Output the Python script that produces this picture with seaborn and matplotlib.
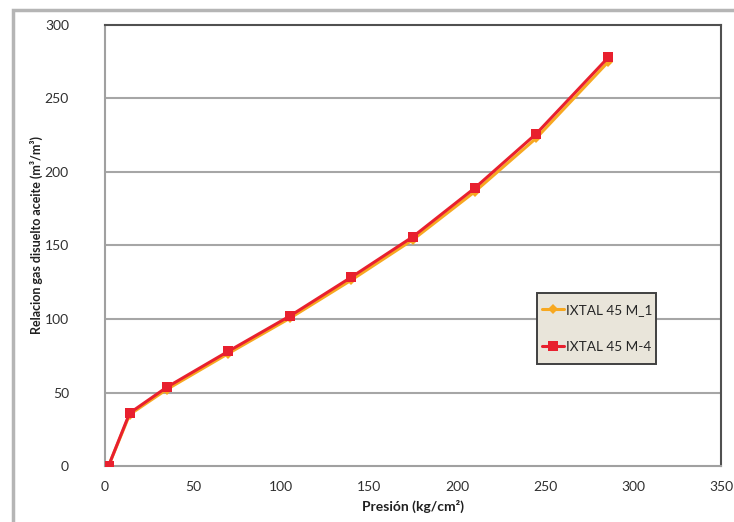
import matplotlib
matplotlib.use("Agg")
import matplotlib.pyplot as plt
import seaborn as sns
import pandas as pd
from matplotlib.patches import Rectangle

# Data
presion = [2, 14, 35, 70, 105, 140, 175, 210, 245, 286]
m1 = [0, 35, 52, 76.5, 100.5, 126.5, 154, 186.5, 223, 275]
m4 = [0, 36, 53.5, 78, 102, 128.5, 156, 189, 226, 278]
series_names = ["IXTAL 45 M_1", "IXTAL 45 M-4"]
x_ticks = [0, 50, 100, 150, 200, 250, 300, 350]
y_ticks = [0, 50, 100, 150, 200, 250, 300]

sns.set_theme(style="white")
plt.rcParams["font.family"] = ["Lato", "DejaVu Sans"]

W, H = 734, 522
fig = plt.figure(figsize=(W / 100, H / 100), dpi=100)
fig.patch.set_facecolor("white")
L, R, T, B = 105, 721, 25, 466
ax = fig.add_axes([L / W, 1 - B / H, (R - L) / W, (B - T) / H])

def fx(px):
    return px / W

def fy(py):
    return 1 - py / H

# outer frame
fig.patches.append(Rectangle((fx(13), -0.05), 1.0, fy(10) + 0.05,
                             transform=fig.transFigure, fill=False,
                             edgecolor="#b5b5b5", linewidth=2.5, zorder=0))

for yv in y_ticks[1:-1]:
    ax.axhline(yv, color="#a6a6a6", linewidth=1.5, zorder=1)

df1 = pd.DataFrame({"x": presion, "y": m1})
df4 = pd.DataFrame({"x": presion, "y": m4})
sns.lineplot(data=df1, x="x", y="y", ax=ax, color="#f7a820", linewidth=2.2,
             marker="D", markersize=5, markeredgewidth=0, label=series_names[0],
             zorder=3, sort=False)
sns.lineplot(data=df4, x="x", y="y", ax=ax, color="#e8202e", linewidth=2.2,
             marker="s", markersize=6.5, markeredgewidth=0, label=series_names[1],
             zorder=4, sort=False)

# legend box (drawn in the axes so it sits above the lines)
box = Rectangle((fx(537), fy(364)), fx(656) - fx(537), fy(293) - fy(364),
                transform=fig.transFigure, facecolor="#e9e5da",
                edgecolor="#404040", linewidth=1.4, zorder=5, clip_on=False)
ax.add_artist(box)

ax.set_xlim(0, 350)
ax.set_ylim(0, 300)
ax.set_xticks(x_ticks)
ax.set_yticks(y_ticks)
ax.tick_params(axis="both", which="both", direction="out", length=5, width=1,
               color="#a0a0a0", labelsize=10, labelcolor="#303030")
ax.tick_params(axis="y", pad=21)
ax.tick_params(axis="x", pad=6)

for s in ["left", "bottom"]:
    ax.spines[s].set_color("#a0a0a0")
    ax.spines[s].set_linewidth(1.5)
for s in ["top", "right"]:
    ax.spines[s].set_color("#505050")
    ax.spines[s].set_linewidth(1.5)

ax.set_xlabel("Presión (kg/cm²)", fontsize=10, fontweight="bold", color="#202020", labelpad=5)
ax.set_ylabel("Relacion gas disuelto aceite (m³/m³)", fontsize=9, fontweight="bold",
              color="#202020")
ax.yaxis.set_label_coords((43 - L) / (R - L), (B - 235) / (B - T))

leg = ax.legend(loc="center left", bbox_to_anchor=(fx(542), fy(328.5)),
                bbox_transform=fig.transFigure,
                frameon=False, fontsize=9.8, handlelength=1.6,
                handletextpad=0.15, labelspacing=1.8, borderpad=0, borderaxespad=0)
leg.set_zorder(6)

fig.savefig("out.png", dpi=100, facecolor="white")
